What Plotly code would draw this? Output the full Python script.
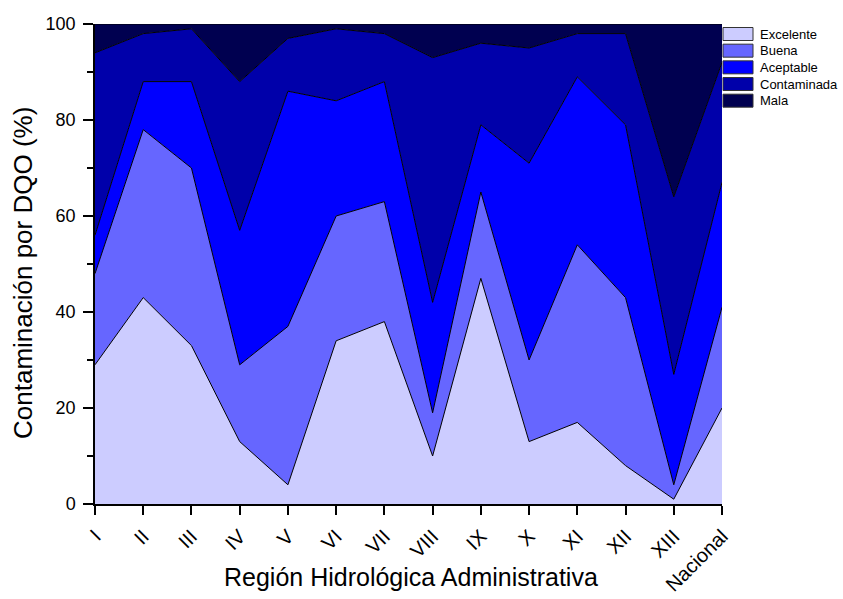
import plotly.graph_objects as go

# Regions and percentage of monitoring sites per DQO quality class
regions = ["I", "II", "III", "IV", "V", "VI", "VII", "VIII", "IX", "X",
           "XI", "XII", "XIII", "Nacional"]
excelente = [29, 43, 33, 13, 4, 34, 38, 10, 47, 13, 17, 8, 1, 20]
buena = [19, 35, 37, 16, 33, 26, 25, 9, 18, 17, 37, 35, 3, 21]
aceptable = [8, 10, 18, 28, 49, 24, 25, 23, 14, 41, 35, 36, 23, 26]
contaminada = [38, 10, 11, 31, 11, 15, 10, 51, 17, 24, 9, 19, 37, 25]
mala = [6, 2, 1, 12, 3, 1, 2, 7, 4, 5, 2, 2, 36, 8]

series_names = ["Excelente", "Buena", "Aceptable", "Contaminada", "Mala"]
series_values = [excelente, buena, aceptable, contaminada, mala]
series_colors = ["#CCCCFF", "#6666FF", "#0000FF", "#0000AA", "#000050"]

y_ticks = [0, 20, 40, 60, 80, 100]
x_title = "Región Hidrológica Administrativa"
y_title = "Contaminación por DQO (%)"

W, H = 843, 599
ML, MR, MT, MB = 95, 121, 24, 95
PW, PH = W - ML - MR, H - MT - MB
FONT = "Liberation Sans, Arial, sans-serif"


def px_x(px):
    return (px - ML) / PW


def px_y(py):
    return 1 - (py - MT) / PH


fig = go.Figure()
for name, vals, col in zip(series_names, series_values, series_colors):
    fig.add_trace(go.Scatter(
        x=regions, y=vals, name=name, mode="lines",
        stackgroup="dqo", fillcolor=col,
        line=dict(color="black", width=1),
        showlegend=False, hoverinfo="x+y+name",
    ))

# Boxed key at the upper right, one swatch per quality class
shapes = []
annotations = []
row_h = 16.67
for i, (name, col) in enumerate(zip(series_names, series_colors)):
    cy = 34 + i * row_h
    shapes.append(dict(
        type="rect", xref="paper", yref="paper",
        x0=px_x(723), x1=px_x(753), y0=px_y(cy + 6.5), y1=px_y(cy - 6.5),
        fillcolor=col, line=dict(color="#333333", width=1), layer="above",
    ))
    annotations.append(dict(
        xref="paper", yref="paper", x=px_x(758), y=px_y(cy),
        xanchor="left", yanchor="middle", showarrow=False,
        text=name, font=dict(family=FONT, size=13, color="black"),
    ))

# Axis titles
annotations.append(dict(
    xref="paper", yref="paper", x=px_x(411), y=px_y(577),
    xanchor="center", yanchor="middle", showarrow=False,
    text=x_title, font=dict(family=FONT, size=25, color="black"),
))
annotations.append(dict(
    xref="paper", yref="paper", x=px_x(23), y=px_y(273),
    xanchor="center", yanchor="middle", showarrow=False, textangle=-90,
    text=y_title, font=dict(family=FONT, size=26, color="black"),
))

fig.update_layout(
    width=W, height=H,
    margin=dict(l=ML, r=MR, t=MT, b=MB, autoexpand=False),
    paper_bgcolor="white", plot_bgcolor="white",
    font=dict(family=FONT, color="black"),
    shapes=shapes, annotations=annotations,
    showlegend=False,
)
fig.update_xaxes(
    type="category", range=[0, len(regions) - 1], automargin=False,
    showgrid=False, zeroline=False,
    showline=True, linecolor="black", linewidth=1.5, mirror=False,
    ticks="outside", ticklen=9, tickwidth=1.5, tickcolor="black",
    tickangle=-45, ticklabelstandoff=2,
    tickfont=dict(family=FONT, size=20),
)
fig.update_yaxes(
    range=[0, 100], tickvals=y_ticks, automargin=False,
    showgrid=False, zeroline=False,
    showline=True, linecolor="black", linewidth=1.5,
    ticks="outside", ticklen=10, tickwidth=1.5, tickcolor="black",
    ticklabelstandoff=4,
    minor=dict(dtick=10, ticks="outside", ticklen=6, tickwidth=1.5,
               tickcolor="black", showgrid=False),
    tickfont=dict(family=FONT, size=18),
)

fig.write_html("out.html")
